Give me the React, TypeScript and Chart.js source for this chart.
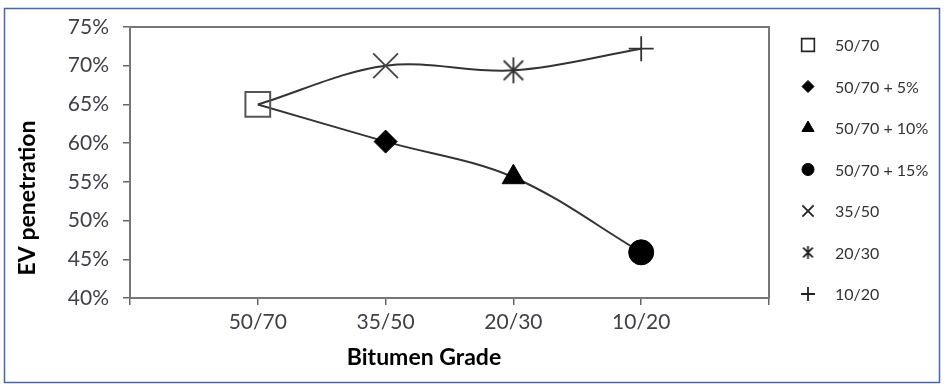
import React, { useEffect, useRef } from 'react';
import { Chart, registerables } from 'chart.js';
import { drawPoint } from 'chart.js/helpers';

Chart.register(...registerables);

// ---- data ----
const categories = ['50/70', '35/50', '20/30', '10/20'];
const yTickValues = [40, 45, 50, 55, 60, 65, 70, 75];
// grades without modifier: 50/70, 35/50, 20/30, 10/20
const gradeSeries = [65, 70, 69.4, 72.2];
// 50/70 with modifier: 0%, 5%, 10%, 15%
const modifiedSeries = [65, 60.2, 55.6, 45.9];
const legendLabels = ['50/70', '50/70 + 5%', '50/70 + 10%', '50/70 + 15%', '35/50', '20/30', '10/20'];
const legendSource = ['modified', 'modified', 'modified', 'modified', 'grade', 'grade', 'grade'];
const legendIndex = [0, 1, 2, 3, 1, 2, 3];

const FONT = 'Lato, "Open Sans", sans-serif';

function makeAsterisk(size: number, lw: number, color: string) {
  const c = document.createElement('canvas');
  c.width = size;
  c.height = size;
  const g = c.getContext('2d')!;
  const h = size / 2;
  const r = h - 1;
  g.strokeStyle = color;
  g.lineWidth = lw;
  g.beginPath();
  g.moveTo(h, h - r);
  g.lineTo(h, h + r);
  const d = r * 0.75;
  g.moveTo(h - d, h - d);
  g.lineTo(h + d, h + d);
  g.moveTo(h + d, h - d);
  g.lineTo(h - d, h + d);
  g.stroke();
  return c;
}

export default function App() {
  const ref = useRef<HTMLCanvasElement | null>(null);

  useEffect(() => {
    document.body.style.margin = '0';
    const canvas = ref.current!;
    const asteriskBig = makeAsterisk(28, 1.8, '#333');
    const asteriskSmall = makeAsterisk(15, 1.8, '#222');

    const plotStyles: any[] = [
      { pointStyle: 'rect', radius: 17.5, bg: 'rgba(0,0,0,0)', border: '#555', bw: 2 },
      { pointStyle: 'rectRot', radius: 11.5, bg: '#000', border: '#000', bw: 1 },
      { pointStyle: 'triangle', radius: 13, bg: '#000', border: '#000', bw: 1 },
      { pointStyle: 'circle', radius: 12.5, bg: '#000', border: '#000', bw: 1 },
      { pointStyle: 'crossRot', radius: 17.5, bg: '#444', border: '#444', bw: 1.8 },
      { pointStyle: asteriskBig, radius: 14, bg: '#333', border: '#333', bw: 1.8 },
      { pointStyle: 'cross', radius: 12.5, bg: '#333', border: '#333', bw: 1.8 },
    ];
    const legendStyles: any[] = [
      { pointStyle: 'rect', radius: 9, bg: 'rgba(0,0,0,0)', border: '#222', bw: 1.6 },
      { pointStyle: 'rectRot', radius: 6, bg: '#000', border: '#000', bw: 1 },
      { pointStyle: 'triangle', radius: 7, bg: '#000', border: '#000', bw: 1 },
      { pointStyle: 'circle', radius: 6, bg: '#000', border: '#000', bw: 1 },
      { pointStyle: 'crossRot', radius: 8, bg: '#222', border: '#222', bw: 1.8 },
      { pointStyle: asteriskSmall, radius: 7, bg: '#222', border: '#222', bw: 1.8 },
      { pointStyle: 'cross', radius: 7, bg: '#222', border: '#222', bw: 1.8 },
    ];

    const markerDatasets = legendLabels.map((label, i) => {
      const src = legendSource[i] === 'grade' ? gradeSeries : modifiedSeries;
      const idx = legendIndex[i];
      const s = plotStyles[i];
      return {
        type: 'scatter' as const,
        label,
        data: [{ x: idx + 1, y: src[idx] }],
        pointStyle: s.pointStyle,
        pointRadius: s.radius,
        pointHoverRadius: s.radius,
        pointBackgroundColor: s.bg,
        pointBorderColor: s.border,
        pointBorderWidth: s.bw,
        showLine: false,
        order: 0,
      };
    });

    const lineDataset = (label: string, values: number[]) => ({
      type: 'line' as const,
      label,
      data: values.map((v, i) => ({ x: i + 1, y: v })),
      borderColor: '#333',
      borderWidth: 2,
      pointRadius: 0,
      tension: 0.35,
      fill: false,
      order: 1,
    });

    const framePlugin = {
      id: 'framePlugin',
      beforeDraw(chart: any) {
        const ctx = chart.ctx;
        ctx.save();
        ctx.fillStyle = '#fff';
        ctx.fillRect(0, 0, chart.width, chart.height);
        ctx.restore();
      },
      afterDraw(chart: any) {
        const ctx = chart.ctx;
        const a = chart.chartArea;
        ctx.save();
        // plot frame
        ctx.strokeStyle = '#777';
        ctx.lineWidth = 2;
        ctx.strokeRect(a.left, a.top, a.right - a.left, a.bottom - a.top);
        // outer frame
        ctx.strokeStyle = '#4a66a4';
        ctx.lineWidth = 1.5;
        ctx.strokeRect(4.5, 8.5, 935, 374);
        // axis titles
        ctx.fillStyle = '#000';
        ctx.font = `bold 23px ${FONT}`;
        ctx.textAlign = 'center';
        ctx.textBaseline = 'middle';
        ctx.fillText('Bitumen Grade', 424, 358);
        ctx.save();
        ctx.translate(28, 198);
        ctx.rotate(-Math.PI / 2);
        ctx.fillText('EV penetration', 0, 0);
        ctx.restore();
        // legend
        ctx.font = `16px ${FONT}`;
        ctx.textAlign = 'left';
        legendLabels.forEach((label, i) => {
          const y = 45 + i * 41.5;
          const s = legendStyles[i];
          ctx.fillStyle = s.bg;
          ctx.strokeStyle = s.border;
          ctx.lineWidth = s.bw;
          drawPoint(ctx, { pointStyle: s.pointStyle, radius: s.radius, rotation: 0, borderWidth: s.bw }, 808, y);
          ctx.fillStyle = '#333';
          ctx.fillText(label, 835, y + 1);
        });
        ctx.restore();
      },
    };

    const tickFont = { family: FONT, size: 21 };
    const chart = new Chart(canvas, {
      type: 'scatter',
      data: {
        datasets: [...markerDatasets, lineDataset('grades', gradeSeries), lineDataset('modified', modifiedSeries)] as any,
      },
      options: {
        animation: false,
        responsive: false,
        layout: { padding: { top: 27, right: 177, left: 0, bottom: 0 } },
        plugins: { legend: { display: false }, tooltip: { enabled: false } },
        scales: {
          x: {
            type: 'linear',
            min: 0,
            max: 5,
            afterFit: (s: any) => { s.height = 93; },
            afterBuildTicks: (s: any) => { s.ticks = [0, 1, 2, 3, 4, 5].map((v) => ({ value: v })); },
            ticks: {
              stepSize: 1,
              autoSkip: false,
              maxRotation: 0,
              padding: 5,
              color: '#404048',
              font: tickFont,
              callback: (v: any) => categories[Number(v) - 1] ?? '',
            },
            grid: { drawOnChartArea: false, drawTicks: true, tickLength: 7, color: '#666', lineWidth: 1.5 },
            border: { display: true, color: '#666', width: 2 },
          },
          y: {
            type: 'linear',
            min: 40,
            max: 75,
            afterFit: (s: any) => { s.width = 130; },
            afterBuildTicks: (s: any) => { s.ticks = yTickValues.map((v) => ({ value: v })); },
            ticks: {
              stepSize: 5,
              padding: 14,
              color: '#404048',
              font: tickFont,
              callback: (v: any) => `${v}%`,
            },
            grid: { drawOnChartArea: false, drawTicks: true, tickLength: 7, color: '#666', lineWidth: 1.5 },
            border: { display: true, color: '#666', width: 2 },
          },
        },
      } as any,
      plugins: [framePlugin],
    });
    return () => chart.destroy();
  }, []);

  return (
    <div style={{ width: 946, height: 391 }}>
      <canvas ref={ref} width={946} height={391} />
    </div>
  );
}
